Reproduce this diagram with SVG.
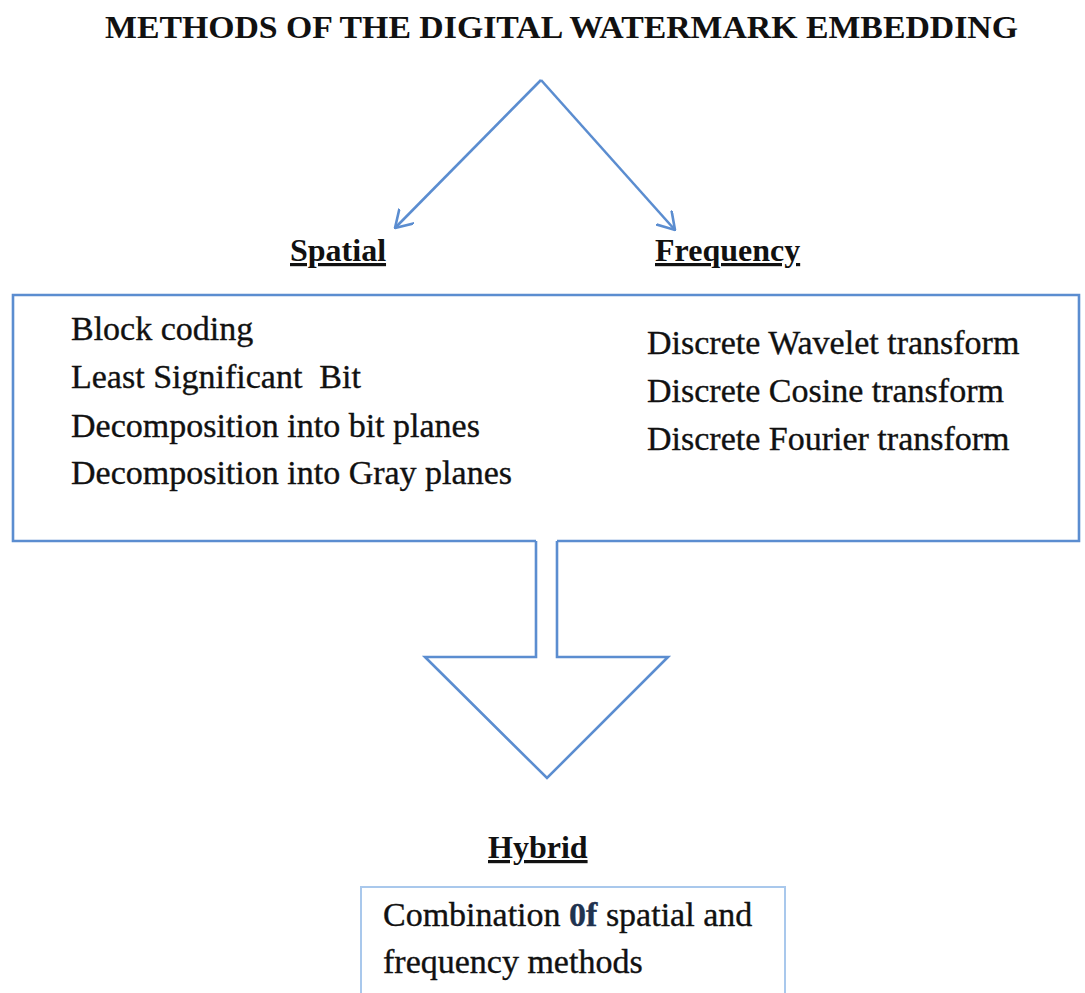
<svg xmlns="http://www.w3.org/2000/svg" width="1085" height="993" viewBox="0 0 1085 993">
  <style>
    .t { font-family: "Liberation Serif", "Times New Roman", serif; fill: #111; }
    .title { font-size: 32px; font-weight: bold; }
    .head { font-size: 32px; font-weight: bold; text-decoration: underline; }
    .item { font-size: 34px; stroke: #111; stroke-width: 0.35px; }
    .line { fill: none; stroke: #5b8dd0; stroke-width: 2.6; stroke-linejoin: miter; }
    .thin { fill: none; stroke: #a9c8ec; stroke-width: 2; }
  </style>
  <defs>
    <marker id="vhead" viewBox="0 0 18 22" refX="17" refY="10.5" markerWidth="18" markerHeight="22" markerUnits="userSpaceOnUse" orient="auto">
      <path d="M0,0 L17,10.5 L0,21" fill="none" stroke="#5b8dd0" stroke-width="2.6"/>
    </marker>
  </defs>
  <rect width="1085" height="993" fill="#ffffff"/>

  <g id="title">
    <text class="t title" x="105" y="38" textLength="913" lengthAdjust="spacingAndGlyphs">METHODS OF THE DIGITAL WATERMARK EMBEDDING</text>
  </g>

  <g id="spatial-label">
    <text class="t head" x="290" y="261">Spatial</text>
  </g>
  <g id="frequency-label">
    <text class="t head" x="655" y="261">Frequency</text>
  </g>

  <g id="methods-box">
    <path class="line" d="M536,541 H13 V295 H1079 V541 H557"/>
    <text class="t item" x="71" y="340">Block coding</text>
    <text class="t item" x="71" y="388">Least Significant&#160; Bit</text>
    <text class="t item" x="71" y="437">Decomposition into bit planes</text>
    <text class="t item" x="71" y="484">Decomposition into Gray planes</text>
    <text class="t item" x="647" y="354">Discrete Wavelet transform</text>
    <text class="t item" x="647" y="402">Discrete Cosine transform</text>
    <text class="t item" x="647" y="450">Discrete Fourier transform</text>
  </g>

  <g id="hybrid-label">
    <text class="t head" x="488" y="858">Hybrid</text>
  </g>
  <g id="hybrid-box">
    <path class="thin" d="M361,1000 V887 H785 V1000"/>
    <text class="t item" x="383" y="926">Combination <tspan style="fill:#1f3350;stroke:#1f3350;font-weight:bold">0f</tspan> spatial and</text>
    <text class="t item" x="383" y="973">frequency methods</text>
  </g>

  <g id="connectors">
    <path class="line" d="M541,80 L395,228" marker-end="url(#vhead)"/>
    <path class="line" d="M541,80 L675,230" marker-end="url(#vhead)"/>
    <path class="line" d="M536,541 V657 H425 L547,778 L668,657 H557 V541"/>
  </g>
</svg>
